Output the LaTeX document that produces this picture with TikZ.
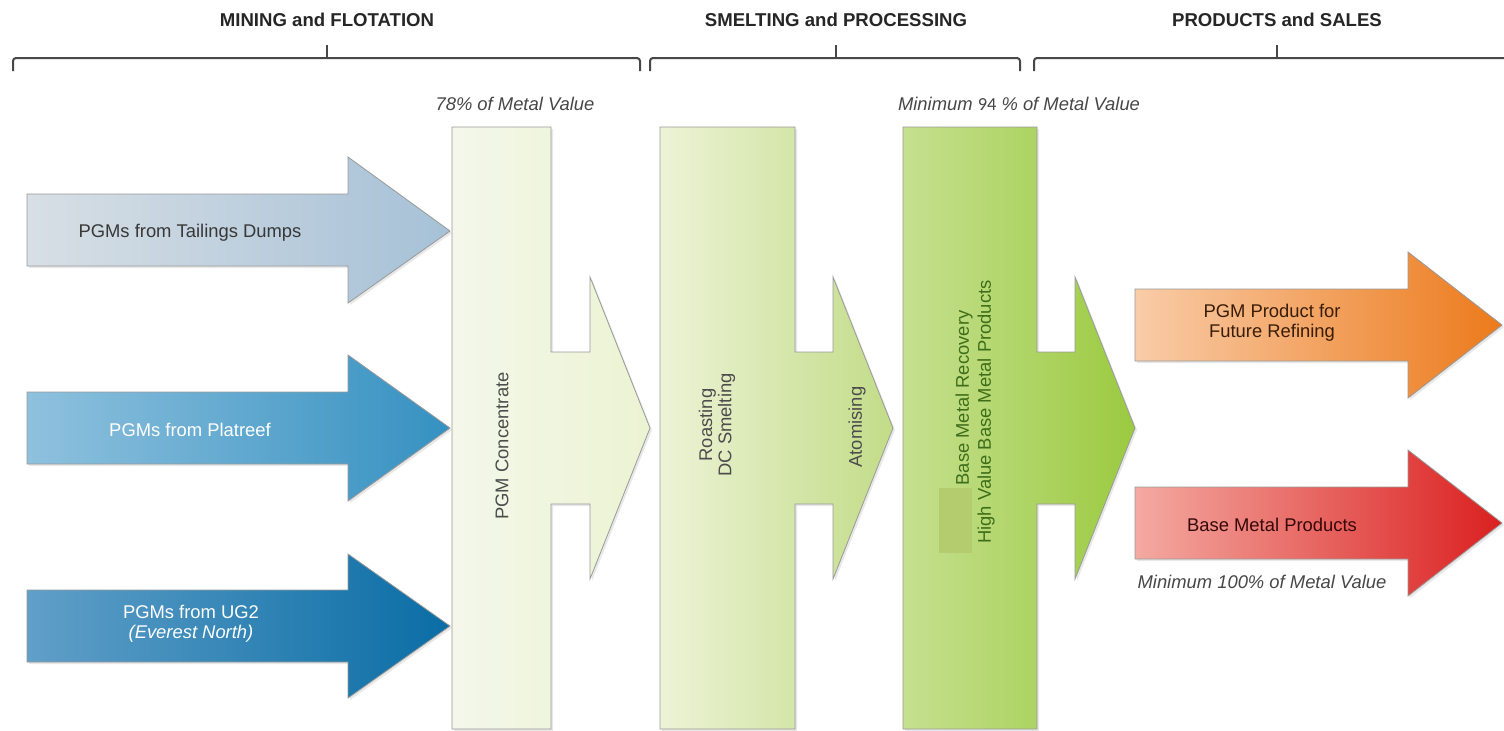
\documentclass[tikz,border=0pt]{standalone}
\usepackage{fontspec}
\setmainfont{Liberation Sans}
\newfontfamily\numfont{Carlito}
\usetikzlibrary{shadows}

\definecolor{tailL}{HTML}{D8DFE5}
\definecolor{tailR}{HTML}{A6C1D7}
\definecolor{platL}{HTML}{8FC1DE}
\definecolor{platR}{HTML}{3591C1}
\definecolor{ugL}{HTML}{609FC8}
\definecolor{ugR}{HTML}{0A6DA5}
\definecolor{concL}{HTML}{F4F7EA}
\definecolor{concR}{HTML}{ECF3D2}
\definecolor{smeltL}{HTML}{EDF3D6}
\definecolor{smeltR}{HTML}{C2DC88}
\definecolor{baseL}{HTML}{C6E090}
\definecolor{baseR}{HTML}{9BCA40}
\definecolor{pgmL}{HTML}{F9CCA8}
\definecolor{pgmR}{HTML}{EC7A1B}
\definecolor{bmpL}{HTML}{F4AAA2}
\definecolor{bmpR}{HTML}{DA2020}
\definecolor{patch}{HTML}{B4CB6E}
\definecolor{greentext}{HTML}{3E6E1A}

\tikzstyle{hdr}=[font=\bfseries\fontsize{9.3}{11}\selectfont, text=black!85]
\tikzstyle{note}=[font=\itshape\fontsize{9.2}{11}\selectfont, text=black!72]
\tikzstyle{lbl}=[font=\fontsize{9.2}{10}\selectfont, align=center, inner sep=1pt]
\tikzstyle{vlbl}=[lbl, rotate=90, text=black!70]
\tikzstyle{brace}=[draw=black!72, line width=1pt, rounded corners=1.5pt]
\tikzstyle{flow}=[draw=black!40, line width=0.4pt, drop shadow={shadow xshift=1pt, shadow yshift=-1pt, opacity=0.18}]

\begin{document}
\begin{tikzpicture}[x=0.5pt, y=-0.5pt]
	\fill[white] (0,0) rectangle (1504,730);
	\useasboundingbox (0,0) rectangle (1504,730);

	% stage headings and brackets
	\node(mining)[hdr] at (327,20) {MINING and FLOTATION};
	\node(smelting)[hdr] at (836,20) {SMELTING and PROCESSING};
	\node(products)[hdr] at (1277,20) {PRODUCTS and SALES};
	\draw[brace] (13,71) -- (13,58) -- (640,58) -- (640,71);
	\draw[brace] (327,45) -- (327,58);
	\draw[brace] (650,71) -- (650,58) -- (1020,58) -- (1020,71);
	\draw[brace] (836,45) -- (836,58);
	\draw[brace] (1034,71) -- (1034,58) -- (1504,58);
	\draw[brace] (1277,45) -- (1277,58);

	% feed arrows
	\path[flow, left color=tailL, right color=tailR] (27,194) -- (348,194) -- (348,157) -- (450,231) -- (348,303) -- (348,266) -- (27,266) -- cycle;
	\path[flow, left color=platL, right color=platR] (27,392) -- (348,392) -- (348,355) -- (450,428) -- (348,501) -- (348,464) -- (27,464) -- cycle;
	\path[flow, left color=ugL, right color=ugR] (27,590) -- (348,590) -- (348,554) -- (450,626) -- (348,698) -- (348,662) -- (27,662) -- cycle;

	% process columns
	\path[flow, left color=concL, right color=concR] (452,127) -- (551,127) -- (551,352) -- (590,352) -- (590,277) -- (650,428) -- (590,579) -- (590,504) -- (551,504) -- (551,729) -- (452,729) -- cycle;
	\path[flow, left color=smeltL, right color=smeltR] (660,127) -- (795,127) -- (795,352) -- (833,352) -- (833,277) -- (893,428) -- (833,579) -- (833,504) -- (795,504) -- (795,729) -- (660,729) -- cycle;
	\path[flow, left color=baseL, right color=baseR] (903,127) -- (1037,127) -- (1037,352) -- (1075,352) -- (1075,277) -- (1135,428) -- (1075,579) -- (1075,504) -- (1037,504) -- (1037,729) -- (903,729) -- cycle;
	\fill[patch] (939,488) rectangle (972,553);

	% product arrows
	\path[flow, left color=pgmL, right color=pgmR] (1135,289) -- (1408,289) -- (1408,252) -- (1502,325) -- (1408,398) -- (1408,361) -- (1135,361) -- cycle;
	\path[flow, left color=bmpL, right color=bmpR] (1135,487) -- (1408,487) -- (1408,450) -- (1502,523) -- (1408,596) -- (1408,559) -- (1135,559) -- cycle;

	% labels
	\node(tailings)[lbl, text=black!78] at (190,233) {PGMs from Tailings Dumps};
	\node(platreef)[lbl, text=white] at (190,430) {PGMs from Platreef};
	\node(ugtwo)[lbl, text=white] at (191,624) {PGMs from UG2\\\textit{(Everest North)}};
	\node(conc)[vlbl] at (502,446) {PGM Concentrate};
	\node(roast)[vlbl, font=\fontsize{9.2}{8.5}\selectfont] at (717,425) {Roasting\\DC Smelting};
	\node(atom)[vlbl] at (857,427) {Atomising};
	\node(bmr)[vlbl, text=greentext] at (964,398) {Base Metal Recovery};
	\node(hvb)[vlbl, text=greentext] at (986,412) {High Value Base Metal Products};
	\node(pgmprod)[lbl, text=black!60!pgmR!60!black] at (1272,323) {PGM Product for\\Future Refining};
	\node(bmprod)[lbl, text=black!55!bmpR!55!black] at (1272,525) {Base Metal Products};

	% metal value notes
	\node(seventy)[note] at (515,104) {78\% of Metal Value};
	\node(ninety)[note] at (1019,104) {Minimum {\upshape\numfont 94} \% of Metal Value};
	\node(hundred)[note] at (1262,582) {Minimum 100\% of Metal Value};
\end{tikzpicture}
\end{document}
